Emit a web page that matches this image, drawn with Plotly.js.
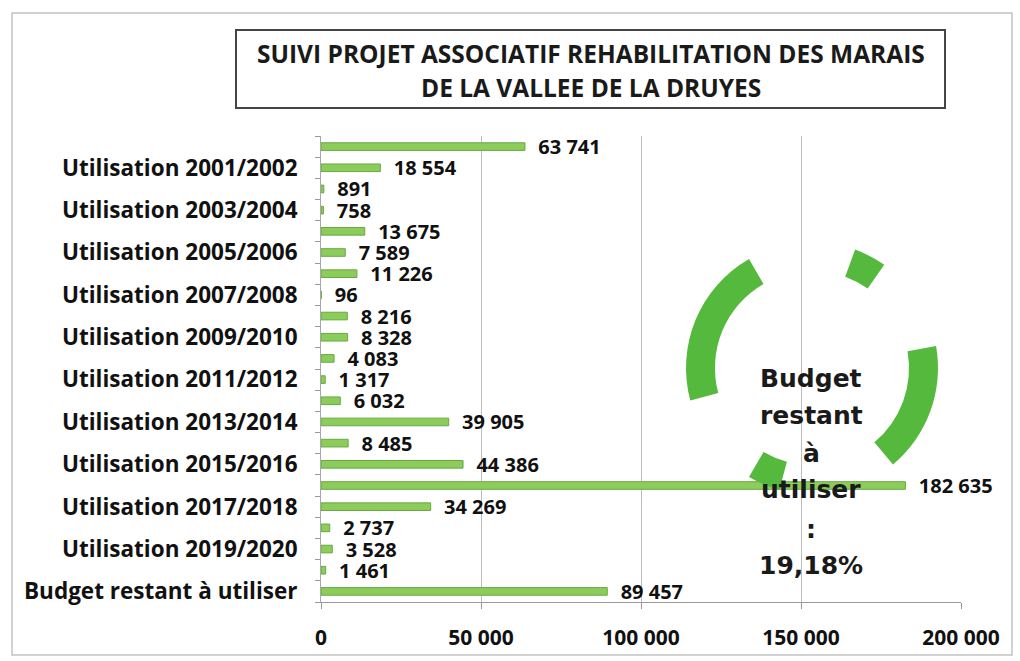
<!DOCTYPE html>
<html>
<head>
<meta charset="utf-8">
<script src="https://cdn.plot.ly/plotly-3.0.1.min.js"></script>
<style>html,body{margin:0;padding:0;background:#fff;}#chart{width:1020px;height:661px;}</style>
</head>
<body>
<div id="chart"></div>
<script>
const categories = [
  'Utilisation 2000/2001', 'Utilisation 2001/2002', 'Utilisation 2002/2003', 'Utilisation 2003/2004',
  'Utilisation 2004/2005', 'Utilisation 2005/2006', 'Utilisation 2006/2007', 'Utilisation 2007/2008',
  'Utilisation 2008/2009', 'Utilisation 2009/2010', 'Utilisation 2010/2011', 'Utilisation 2011/2012',
  'Utilisation 2012/2013', 'Utilisation 2013/2014', 'Utilisation 2014/2015', 'Utilisation 2015/2016',
  'Utilisation 2016/2017', 'Utilisation 2017/2018', 'Utilisation 2018/2019', 'Utilisation 2019/2020',
  'Utilisation 2020/2021', 'Budget restant à utiliser'
];
const values = [63741, 18554, 891, 758, 13675, 7589, 11226, 96, 8216, 8328, 4083, 1317,
  6032, 39905, 8485, 44386, 182635, 34269, 2737, 3528, 1461, 89457];
const xTicks = [0, 50000, 100000, 150000, 200000];
const titleLines = ['SUIVI PROJET ASSOCIATIF REHABILITATION DES MARAIS', 'DE LA VALLEE DE LA DRUYES'];
const ringSegments = [20, 15, 45, 60, 55, 15, 45, 75, 30];
const ringFilled = [false, true, false, true, false, true, false, true, false];
const donutLabel = ['Budget', 'restant', 'à', 'utiliser', ':', '19,18%'];

// layout helpers (pixel -> paper)
const L = 321, R = 961, T = 136, B = 602;
const px = x => (x - L) / (R - L);
const py = y => (B - y) / (B - T);

const green = '#55b93e';
const bars = {
  type: 'bar', orientation: 'h',
  y: categories, x: values,
  width: 0.36,
  marker: { color: '#8ccc5a', line: { color: '#6aa843', width: 1 } },
  text: values, texttemplate: '\u00a0\u00a0%{x:,d}', textposition: 'outside', cliponaxis: false,
  constraintext: 'none',
  textfont: { family: 'Open Sans', size: 20, color: '#111', weight: 'bold' },
  hoverinfo: 'x+y', showlegend: false
};
const ring = {
  type: 'pie', values: ringSegments, sort: false, direction: 'clockwise', rotation: 0,
  hole: 0.77, textinfo: 'none', hoverinfo: 'skip', showlegend: false,
  marker: { colors: ringFilled.map(f => f ? green : 'rgba(0,0,0,0)'), line: { width: 0 } },
  domain: { x: [px(812 - 126), px(812 + 126)], y: [py(368 + 126), py(368 - 126)] }
};

const lineYs = [378, 416, 453, 489, 529, 565];
const annotations = [
  { text: '<b>' + titleLines[0] + '</b>', x: px(591), y: py(53) },
  { text: '<b>' + titleLines[1] + '</b>', x: px(591), y: py(88) }
].map(a => Object.assign(a, { xref: 'paper', yref: 'paper', showarrow: false,
  xanchor: 'center', yanchor: 'middle',
  font: { family: 'Open Sans', size: 24.5, color: '#1a1a1a' } }))
.concat(donutLabel.map((t, i) => ({
  text: '<b>' + t + '</b>', x: px(811), y: py(lineYs[i]), xref: 'paper', yref: 'paper',
  xanchor: 'center', yanchor: 'middle',
  showarrow: false, font: { family: 'DejaVu Sans', size: 25, color: '#1a1a1a' }
})));

const layout = {
  width: 1020, height: 661,
  margin: { l: L, r: 1020 - R, t: T, b: 661 - B },
  paper_bgcolor: '#fff', plot_bgcolor: '#fff',
  separators: ', ',
  xaxis: {
    range: [0, 200000], tickvals: xTicks, tickformat: ',d',
    showgrid: true, gridcolor: '#bdbdbd', gridwidth: 1, zeroline: false,
    showline: true, linecolor: '#9a9a9a', linewidth: 1,
    ticks: 'outside', ticklen: 6, tickcolor: '#9a9a9a', ticklabelstandoff: 11,
    tickfont: { family: 'Open Sans', size: 21, color: '#111', weight: 'bold' }
  },
  yaxis: {
    type: 'category', autorange: 'reversed',
    tickvals: categories, ticktext: categories.map((c, i) => i % 2 === 1 ? c : ''),
    tickson: 'boundaries', ticks: 'outside', ticklen: 5, tickcolor: '#9a9a9a',
    showline: true, linecolor: '#a8a8a8', linewidth: 1, showgrid: false,
    ticklabelstandoff: 18,
    tickfont: { family: 'Open Sans', size: 22.5, color: '#111', weight: 'bold' }
  },
  shapes: [
    { type: 'rect', xref: 'paper', yref: 'paper', x0: px(236), x1: px(945), y0: py(108), y1: py(30),
      line: { color: '#444', width: 2 }, layer: 'above' },
    { type: 'rect', xref: 'paper', yref: 'paper', x0: px(12), x1: px(1012), y0: py(655), y1: py(13),
      line: { color: '#c4c4c4', width: 1.5 }, layer: 'below' }
  ],
  annotations: annotations
};

Plotly.newPlot('chart', [bars, ring], layout, { displayModeBar: false, staticPlot: true });
</script>
</body>
</html>
